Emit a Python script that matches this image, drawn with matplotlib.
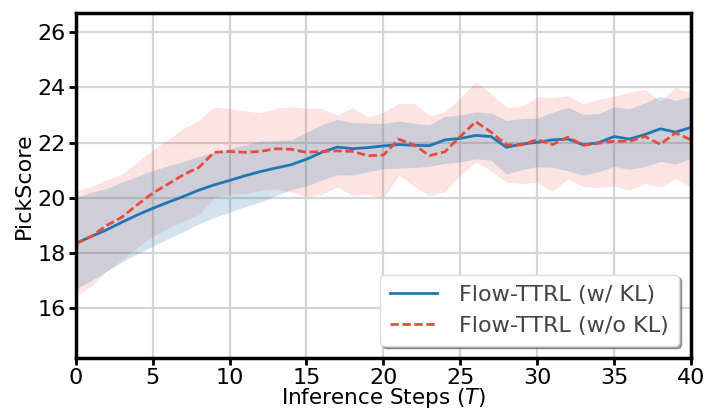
"""PickScore vs. inference steps for Flow-TTRL with and without the KL term."""

import matplotlib

matplotlib.use("Agg")
import matplotlib.pyplot as plt
import numpy as np

_OUTPUT_PATH = "out.png"
_BLUE = "#1f77b4"
_RED = "#e74c3c"
_FONT_SIZE = 16

steps = list(range(41))

# Flow-TTRL (w/ KL): mean PickScore and spread per step
with_kl_mean = [
    18.35, 18.60, 18.84, 19.12, 19.38, 19.62, 19.84, 20.05, 20.28, 20.47,
    20.63, 20.80, 20.95, 21.08, 21.20, 21.40, 21.65, 21.84, 21.78, 21.82,
    21.88, 21.93, 21.90, 21.89, 22.10, 22.15, 22.26, 22.22, 21.83, 21.95,
    22.01, 22.10, 22.13, 21.92, 22.00, 22.22, 22.13, 22.29, 22.50, 22.38,
    22.55,
]
with_kl_std = [
    1.65, 1.60, 1.50, 1.45, 1.40, 1.37, 1.32, 1.27, 1.22, 1.18,
    1.15, 1.12, 1.10, 1.00, 0.90, 0.97, 1.00, 1.00, 0.95, 0.88,
    0.82, 0.85, 0.80, 0.75, 0.85, 0.85, 0.85, 0.85, 0.97, 0.92,
    0.88, 1.00, 1.15, 1.10, 1.05, 1.08, 1.10, 1.15, 1.18, 1.15,
    1.12,
]

# Flow-TTRL (w/o KL)
without_kl_mean = [
    18.35, 18.60, 19.00, 19.30, 19.75, 20.17, 20.50, 20.84, 21.10, 21.65,
    21.68, 21.65, 21.68, 21.78, 21.76, 21.65, 21.68, 21.70, 21.68, 21.53,
    21.55, 22.12, 21.92, 21.53, 21.67, 22.22, 22.76, 22.38, 21.92, 21.92,
    22.11, 21.93, 22.20, 21.90, 21.98, 22.05, 22.05, 22.22, 21.94, 22.35,
    22.10,
]
without_kl_std = [
    1.90, 1.80, 1.65, 1.55, 1.55, 1.57, 1.60, 1.68, 1.70, 1.65,
    1.55, 1.50, 1.40, 1.45, 1.55, 1.60, 1.55, 1.30, 1.60, 1.40,
    1.55, 1.30, 1.50, 1.45, 1.45, 1.40, 1.45, 1.40, 1.35, 1.40,
    1.55, 1.70, 1.50, 1.50, 1.60, 1.62, 1.78, 1.70, 1.55, 1.65,
    1.70,
]

series_labels = ["Flow-TTRL (w/ KL)", "Flow-TTRL (w/o KL)"]
x_ticks = [0, 5, 10, 15, 20, 25, 30, 35, 40]
y_ticks = [16, 18, 20, 22, 24, 26]


def main() -> None:
    plt.rcParams.update(
        {
            "font.family": "DejaVu Sans",
            "font.size": _FONT_SIZE,
            "axes.linewidth": 2.5,
            "xtick.major.width": 2.0,
            "ytick.major.width": 2.0,
            "xtick.major.size": 5,
            "ytick.major.size": 5,
            "xtick.major.pad": 2.0,
            "ytick.major.pad": 2.5,
        }
    )
    fig = plt.figure(figsize=(7.08, 4.13), dpi=100)
    ax = fig.add_axes([0.107, 0.133, 0.869, 0.836])

    x = np.array(steps)
    m1, s1 = np.array(with_kl_mean), np.array(with_kl_std)
    m2, s2 = np.array(without_kl_mean), np.array(without_kl_std)

    ax.fill_between(x, m2 - s2, m2 + s2, color=_RED, alpha=0.15, linewidth=0)
    ax.fill_between(x, m1 - s1, m1 + s1, color=_BLUE, alpha=0.2, linewidth=0)
    (h1,) = ax.plot(x, m1, color=_BLUE, linewidth=2.0, label=series_labels[0])
    (h2,) = ax.plot(x, m2, color=_RED, linewidth=2.0, linestyle="--",
                    dashes=(3.0, 1.3), label=series_labels[1])

    ax.set_xlim(0, 40)
    ax.set_ylim(14.2, 26.7)
    ax.set_xticks(x_ticks)
    ax.set_yticks(y_ticks)
    ax.tick_params(labelsize=_FONT_SIZE, colors="black")
    ax.grid(True, color="#d5d5d5", linewidth=1.6)
    ax.set_axisbelow(True)
    ax.set_xlabel("Inference Steps ($T$)", fontsize=15.5, labelpad=-1)
    ax.set_ylabel("PickScore", fontsize=_FONT_SIZE, labelpad=2)

    legend = ax.legend(
        handles=[h1, h2],
        loc="lower right",
        fontsize=_FONT_SIZE,
        frameon=True,
        shadow=True,
        framealpha=1.0,
        edgecolor="#dddddd",
        borderaxespad=0.55,
        borderpad=0.45,
        handlelength=2.1,
        handletextpad=1.0,
    )
    for text in legend.get_texts():
        text.set_color("#444444")

    fig.savefig(_OUTPUT_PATH, dpi=100)
    plt.close(fig)


if __name__ == "__main__":
    main()
